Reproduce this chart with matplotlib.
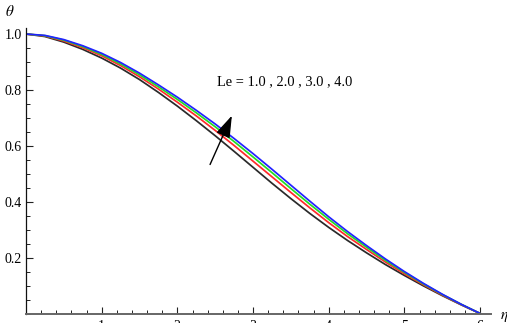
import matplotlib
matplotlib.use('Agg')
import matplotlib.pyplot as plt
from matplotlib.ticker import MultipleLocator

plt.rcParams['mathtext.fontset'] = 'stix'

# ── Data ────────────────────────────────────────────────────────────────────
eta = [0.00, 0.25, 0.50, 0.75, 1.00, 1.25, 1.50, 1.75, 2.00, 2.25, 2.50, 2.75,
       3.00, 3.25, 3.50, 3.75, 4.00, 4.25, 4.50, 4.75, 5.00, 5.25, 5.50, 5.75, 6.00]
theta_le1 = [1.000, 0.991, 0.971, 0.945, 0.914, 0.878, 0.837, 0.791, 0.742, 0.690, 0.636, 0.580,
             0.523, 0.466, 0.411, 0.358, 0.308, 0.261, 0.217, 0.175, 0.136, 0.099, 0.064, 0.031, 0.000]
theta_le2 = [1.000, 0.993, 0.975, 0.951, 0.922, 0.887, 0.847, 0.803, 0.756, 0.707, 0.655, 0.601,
             0.545, 0.489, 0.433, 0.378, 0.325, 0.275, 0.229, 0.184, 0.142, 0.103, 0.066, 0.032, 0.000]
theta_le3 = [1.000, 0.994, 0.978, 0.955, 0.927, 0.893, 0.854, 0.811, 0.766, 0.718, 0.668, 0.615,
             0.560, 0.504, 0.447, 0.391, 0.337, 0.285, 0.237, 0.190, 0.147, 0.106, 0.068, 0.033, 0.000]
theta_le4 = [1.000, 0.995, 0.980, 0.958, 0.931, 0.898, 0.860, 0.818, 0.774, 0.727, 0.678, 0.626,
             0.572, 0.516, 0.459, 0.402, 0.346, 0.293, 0.243, 0.195, 0.150, 0.108, 0.069, 0.033, 0.000]
colors = ["#2a2a2a", "#ff2a2a", "#22dd22", "#2222ff"]

SERIF = "Liberation Serif"

fig = plt.figure(figsize=(5.07, 3.23), dpi=100, facecolor="white")
ax = fig.add_axes([26 / 507, 9.5 / 323, 464.7 / 507, 285.5 / 323])

for th, c in zip([theta_le1, theta_le2, theta_le3, theta_le4], colors):
    ax.plot(eta, th, color=c, lw=1.25, solid_capstyle='round', solid_joinstyle='round')

ax.set_xlim(0, 6.14)
ax.set_ylim(0, 1.0215)

for s in ['top', 'right']:
    ax.spines[s].set_visible(False)
ax.spines['left'].set_color("#111111")
ax.spines['bottom'].set_color("#666666")
ax.spines['left'].set_linewidth(0.9)
ax.spines['bottom'].set_linewidth(1.4)

ax.xaxis.set_minor_locator(MultipleLocator(0.2))
ax.yaxis.set_minor_locator(MultipleLocator(0.05))
ax.tick_params(which='major', direction='in', length=5, width=0.8, color="#222222",
               labelsize=10, pad=3)
ax.tick_params(which='minor', direction='in', length=3, width=0.7, color="#222222")
ax.set_yticks([0.2, 0.4, 0.6, 0.8, 1.0])
ax.set_yticklabels(["0.2", "0.4", "0.6", "0.8", "1.0"], fontfamily=SERIF)
ax.set_xticks([1, 2, 3, 4, 5, 6])
ax.set_xticklabels(["1", "2", "3", "4", "5", "6"], fontfamily=SERIF)
ax.tick_params(axis='x', pad=5)

# axis labels
fig.text(10 / 507, 1 - 12 / 323, r"$\theta$", ha='center', va='center', fontsize=11)
fig.text(504 / 507, 1 - 316 / 323, r"$\eta$", ha='center', va='center', fontsize=11)

# annotation
ax.text(2.52, 0.83, "Le = 1.0 , 2.0 , 3.0 , 4.0", fontfamily=SERIF, fontsize=10.4,
        ha='left', va='center')
ax.annotate("", xy=(2.735, 0.717), xytext=(2.417, 0.524),
            arrowprops=dict(arrowstyle="-|>,head_length=0.75,head_width=0.25",
                            color="black", lw=1.0, mutation_scale=18))

fig.savefig("out.png", dpi=100, facecolor="white")
